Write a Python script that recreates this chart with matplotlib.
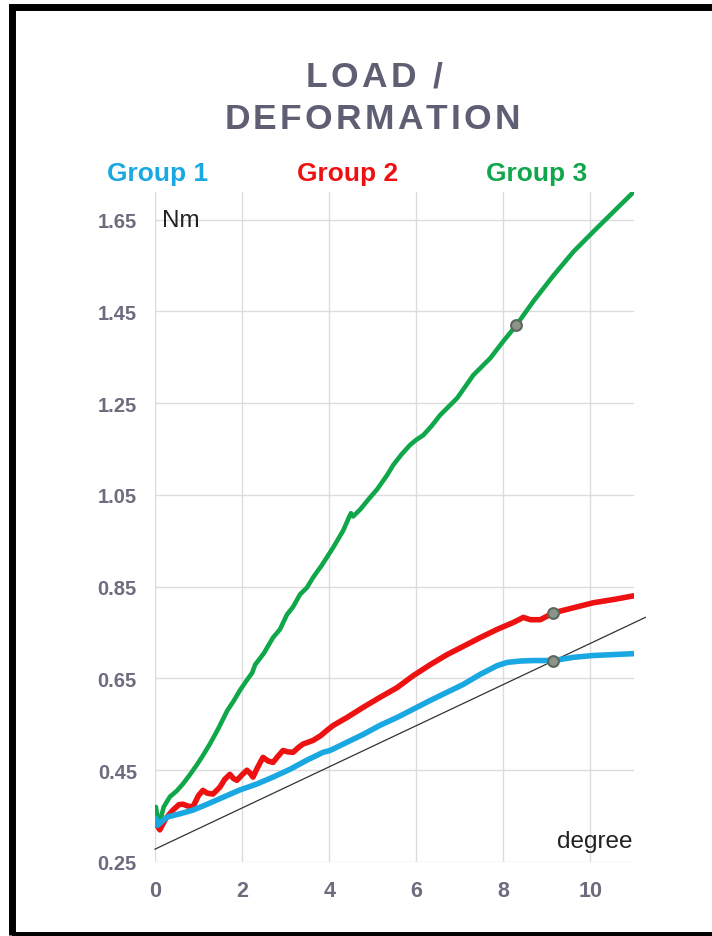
import matplotlib
matplotlib.use("Agg")
import matplotlib.pyplot as plt
from matplotlib.patches import Rectangle

plt.rcParams["font.family"] = ["Liberation Sans", "DejaVu Sans"]

# data
group3_x = [0.02, 0.06, 0.10, 0.20, 0.34, 0.50, 0.64, 0.80, 0.97, 1.10, 1.26, 1.45,
            1.66, 1.80, 1.95, 2.10, 2.23, 2.30, 2.50, 2.71, 2.87, 3.03, 3.17, 3.33,
            3.49, 3.63, 3.84, 4.09, 4.32, 4.45, 4.50, 4.55, 4.71, 4.90, 5.10, 5.33,
            5.47, 5.66, 5.86, 6.00, 6.16, 6.35, 6.55, 6.94, 7.31, 7.70, 8.00, 8.30,
            8.69, 9.15, 9.61, 10.07, 10.53, 10.99]
group3_y = [0.370, 0.345, 0.333, 0.370, 0.392, 0.405, 0.420, 0.440, 0.463, 0.482,
            0.507, 0.540, 0.580, 0.600, 0.624, 0.645, 0.662, 0.680, 0.705, 0.739,
            0.757, 0.789, 0.806, 0.833, 0.848, 0.870, 0.898, 0.935, 0.972, 1.000,
            1.010, 1.003, 1.018, 1.040, 1.062, 1.093, 1.115, 1.138, 1.159, 1.170,
            1.180, 1.200, 1.224, 1.261, 1.311, 1.348, 1.385, 1.420, 1.472, 1.528,
            1.580, 1.624, 1.667, 1.710]

group2_x = [0.05, 0.11, 0.25, 0.41, 0.55, 0.64, 0.75, 0.87, 1.00, 1.10, 1.20, 1.33,
            1.49, 1.60, 1.72, 1.80, 1.88, 2.00, 2.11, 2.18, 2.25, 2.35, 2.48, 2.60,
            2.71, 2.82, 2.94, 3.05, 3.17, 3.30, 3.40, 3.63, 3.80, 3.95, 4.10, 4.41,
            4.78, 5.17, 5.56, 5.93, 6.32, 6.71, 7.08, 7.47, 7.86, 8.23, 8.46, 8.62,
            8.85, 9.15, 9.61, 10.07, 10.53, 10.99]
group2_y = [0.330, 0.320, 0.345, 0.363, 0.375, 0.376, 0.372, 0.370, 0.395, 0.406,
            0.400, 0.398, 0.413, 0.430, 0.441, 0.432, 0.428, 0.440, 0.450, 0.444,
            0.435, 0.455, 0.478, 0.470, 0.467, 0.480, 0.493, 0.490, 0.489, 0.500,
            0.507, 0.515, 0.525, 0.537, 0.548, 0.565, 0.587, 0.609, 0.630, 0.656,
            0.680, 0.702, 0.720, 0.739, 0.757, 0.772, 0.783, 0.778, 0.778, 0.793,
            0.804, 0.815, 0.822, 0.830]

group1_x = [0.02, 0.06, 0.12, 0.28, 0.57, 0.87, 1.20, 1.56, 1.95, 2.34, 2.71, 3.10,
            3.49, 3.86, 4.02, 4.41, 4.78, 5.17, 5.56, 5.93, 6.32, 6.71, 7.08, 7.47,
            7.86, 8.09, 8.40, 8.69, 9.15, 9.61, 10.07, 10.53, 10.99]
group1_y = [0.345, 0.330, 0.335, 0.348, 0.355, 0.363, 0.376, 0.391, 0.407, 0.420,
            0.435, 0.452, 0.472, 0.489, 0.493, 0.511, 0.528, 0.548, 0.565, 0.583,
            0.602, 0.620, 0.637, 0.659, 0.678, 0.685, 0.688, 0.689, 0.689, 0.696,
            0.700, 0.702, 0.704]

ref_x = [0.0, 11.26]
ref_y = [0.278, 0.783]

mark_x = [8.30, 9.15, 9.15]
mark_y = [1.420, 0.793, 0.689]

x_ticks = [0, 2, 4, 6, 8, 10]
y_ticks = [0.25, 0.45, 0.65, 0.85, 1.05, 1.25, 1.45, 1.65]

groups = ["Group 1", "Group 2", "Group 3"]
group_colors = ["#1aa8e2", "#ee1111", "#10a64a"]

label_gray = "#6c6c7e"
title_gray = "#5f5f73"

W, H = 712, 937
fig = plt.figure(figsize=(W / 100, H / 100), dpi=100)
ax = fig.add_axes([155 / W, 1 - 863 / H, 479 / W, 670 / H])


def spaced_text(s, xc, y_px, size, track, **kw):
    # letter-spaced text, centred on xc (pixels from left), baseline at y_px
    r = fig.canvas.get_renderer()
    widths = []
    for ch in s:
        if ch == " ":
            widths.append(0.278 * size * 100 / 72)
            continue
        t = fig.text(0, 0, ch, fontsize=size, **kw)
        widths.append(t.get_window_extent(r).width)
        t.remove()
    total = sum(widths) + track * (len(s) - 1)
    x = xc - total / 2
    for ch, w in zip(s, widths):
        if ch != " ":
            fig.text(x / W, 1 - y_px / H, ch, fontsize=size, ha="left",
                     va="baseline", **kw)
        x += w + track


ax.plot(ref_x, ref_y, color="#333333", lw=0.9, clip_on=False, zorder=2)
ax.plot(group3_x, group3_y, color=group_colors[2], lw=3.3, zorder=3,
        solid_joinstyle="round", solid_capstyle="round")
ax.plot(group2_x, group2_y, color=group_colors[1], lw=4.0, zorder=4,
        solid_joinstyle="round", solid_capstyle="round")
ax.plot(group1_x, group1_y, color=group_colors[0], lw=4.0, zorder=5,
        solid_joinstyle="round", solid_capstyle="round")
ax.scatter(mark_x, mark_y, s=60, color="#8a9488", edgecolor="#5e665e",
           linewidth=1.5, zorder=6)

ax.set_xlim(0, 11.0)
ax.set_ylim(0.25, 1.71)
ax.set_xticks(x_ticks)
ax.set_yticks(y_ticks)
ax.set_yticklabels([f"{v:.2f}" for v in y_ticks])
ax.grid(True, color="#dcdcdc", lw=1.0)
ax.set_axisbelow(True)
for s in ax.spines.values():
    s.set_visible(False)
ax.tick_params(length=0, labelsize=14.5, labelcolor=label_gray)
ax.tick_params(axis="y", pad=13)
ax.tick_params(axis="x", labelsize=15.5, pad=13)
for t in ax.get_xticklabels() + ax.get_yticklabels():
    t.set_fontweight("bold")

ax.text(0.15, 1.65, "Nm", fontsize=17.5, color="#222222", va="center", ha="left")
ax.text(10.97, 0.283, "degree", fontsize=17.5, color="#222222", va="baseline", ha="right")

spaced_text("LOAD /", 374, 87, 25.5, 3.2, fontweight="bold", color=title_gray)
spaced_text("DEFORMATION", 372, 129, 25.5, 3.2, fontweight="bold", color=title_gray)

for name, c, xc in zip(groups, group_colors, [158, 348, 537]):
    fig.text(xc / W, 1 - 181 / H, name, fontsize=19, fontweight="bold",
             color=c, ha="center", va="baseline")

# black frame (right edge cut off in the reference)
fig.add_artist(Rectangle((11.5 / W, 1 - 935.5 / H), 720 / W, 928 / H,
                         transform=fig.transFigure, fill=False,
                         edgecolor="black", lw=5.0, clip_on=False))

fig.savefig("out.png", dpi=100)
